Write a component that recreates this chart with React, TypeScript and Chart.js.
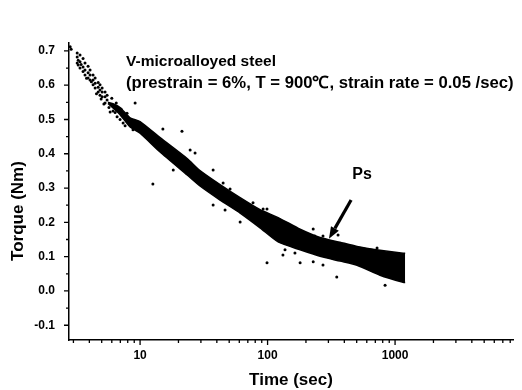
import React, { useEffect, useRef } from "react";
import { Chart, registerables } from "chart.js";

Chart.register(...registerables);

const bandTime = [5.6, 6.2, 6.97, 8.35, 10, 14.35, 23.4, 29.5, 42.4, 60.9, 87.3, 121, 180, 258, 370, 503, 762, 1156, 1200];
const bandUpper = [0.55, 0.545, 0.535, 0.505, 0.494, 0.447, 0.386, 0.351, 0.31, 0.272, 0.237, 0.214, 0.18, 0.156, 0.142, 0.13, 0.119, 0.11, 0.11];
const bandLower = [0.547, 0.532, 0.514, 0.478, 0.46, 0.405, 0.338, 0.306, 0.265, 0.227, 0.184, 0.143, 0.12, 0.101, 0.087, 0.075, 0.046, 0.025, 0.025];

// Individual (sparse / stray) points
const dotTime = [
  2.83, 2.88,
  3.21, 3.21, 3.21, 3.27, 3.27, 3.38, 3.38, 3.38, 3.57, 3.57, 3.57,
  3.7, 3.7, 3.7, 3.91, 3.91, 3.91, 4.05, 4.05, 4.05, 4.28, 4.28, 4.28,
  4.44, 4.44, 4.44, 4.69, 4.69, 4.69, 4.85, 4.85, 4.85, 5.04, 5.04, 5.04,
  5.31, 5.31, 5.31, 5.51, 5.51, 5.82, 6.14, 6.37, 6.6, 6.97, 7.36, 7.63,
  3.45, 3.8, 4.15, 4.55, 4.95, 5.2, 5.7, 6.0, 6.5, 7.1, 7.9, 8.8,
  9.14, 15.1, 21.3, 24.7, 18.2, 27, 12.6,
  37.4, 44.8, 50.8, 76.9, 92.3, 37.4, 46.4, 60.9, 99, 73,
  130, 228, 272, 357, 443, 137, 164, 228, 272,
  722, 946, 835, 349, 180, 99, 132, 215, 235,
];
const dotTorque = [
  0.712, 0.705,
  0.694, 0.682, 0.665, 0.673, 0.659, 0.688, 0.668, 0.65, 0.678, 0.653, 0.64,
  0.665, 0.644, 0.63, 0.655, 0.636, 0.621, 0.644, 0.63, 0.615, 0.63, 0.615, 0.601,
  0.621, 0.606, 0.592, 0.608, 0.594, 0.58, 0.601, 0.586, 0.571, 0.592, 0.58, 0.566,
  0.58, 0.566, 0.548, 0.571, 0.557, 0.522, 0.525, 0.52, 0.508, 0.5, 0.49, 0.482,
  0.66, 0.62, 0.61, 0.575, 0.56, 0.545, 0.535, 0.562, 0.548, 0.53, 0.518, 0.47,
  0.548, 0.472, 0.466, 0.411, 0.353, 0.402, 0.312,
  0.353, 0.315, 0.297, 0.257, 0.239, 0.251, 0.236, 0.201, 0.239, 0.222,
  0.198, 0.181, 0.16, 0.163, 0.128, 0.12, 0.111, 0.085, 0.076,
  0.125, 0.102, 0.017, 0.041, 0.082, 0.082, 0.105, 0.16, 0.16,
];

const xTickValues = [10, 100, 1000];
const xMinorTicks = [3, 4, 5, 6, 7, 8, 9, 20, 30, 40, 50, 60, 70, 80, 90, 200, 300, 400, 500, 600, 700, 800, 900, 2000, 3000, 4000, 5000, 6000, 7000, 8000];
const yTickValues = [-0.1, 0, 0.1, 0.2, 0.3, 0.4, 0.5, 0.6, 0.7];
const yMinorTicks = [-0.05, 0.05, 0.15, 0.25, 0.35, 0.45, 0.55, 0.65];

const noteLines = ["V-microalloyed steel", "(prestrain = 6%, T = 900\u2103, strain rate = 0.05 /sec)"];
const noteAnchor = { t: 7.76, v1: 0.668, v2: 0.606 };
const psLabel = "Ps";
const psAnchor = { t: 551, v: 0.338 };
const arrowFrom = { t: 452, v: 0.265 };
const arrowTo = { t: 303, v: 0.152 };

const FONT = '"Liberation Sans", Arial, sans-serif';

const decor = {
  id: "decor",
  afterDatasetsDraw(chart: any) {
    const { ctx, chartArea: a, scales } = chart;
    const x = scales.x;
    const y = scales.y;
    ctx.save();
    ctx.strokeStyle = "#000";
    ctx.lineWidth = 1.3;
    ctx.beginPath();
    yTickValues.forEach((v) => {
      const p = y.getPixelForValue(v);
      ctx.moveTo(a.left - 5, p);
      ctx.lineTo(a.left, p);
    });
    yMinorTicks.forEach((v) => {
      const p = y.getPixelForValue(v);
      ctx.moveTo(a.left - 3, p);
      ctx.lineTo(a.left, p);
    });
    xTickValues.forEach((v) => {
      const p = x.getPixelForValue(v);
      ctx.moveTo(p, a.bottom);
      ctx.lineTo(p, a.bottom + 5);
    });
    xMinorTicks.forEach((v) => {
      const p = x.getPixelForValue(v);
      ctx.moveTo(p, a.bottom);
      ctx.lineTo(p, a.bottom + 3);
    });
    ctx.stroke();

    ctx.fillStyle = "#000";
    ctx.textBaseline = "middle";
    ctx.textAlign = "left";
    ctx.font = `bold 15.5px ${FONT}`;
    ctx.fillText(noteLines[0], x.getPixelForValue(noteAnchor.t), y.getPixelForValue(noteAnchor.v1));
    ctx.font = `bold 16.7px ${FONT}`;
    ctx.fillText(noteLines[1], x.getPixelForValue(noteAnchor.t), y.getPixelForValue(noteAnchor.v2));

    ctx.textAlign = "center";
    ctx.font = `bold 16px ${FONT}`;
    ctx.fillText(psLabel, x.getPixelForValue(psAnchor.t), y.getPixelForValue(psAnchor.v));

    // arrow
    const x0 = x.getPixelForValue(arrowFrom.t);
    const y0 = y.getPixelForValue(arrowFrom.v);
    const x1 = x.getPixelForValue(arrowTo.t);
    const y1 = y.getPixelForValue(arrowTo.v);
    const ang = Math.atan2(y1 - y0, x1 - x0);
    const headLen = 12;
    const headW = 4.5;
    const bx = x1 - headLen * Math.cos(ang);
    const by = y1 - headLen * Math.sin(ang);
    ctx.lineWidth = 3.2;
    ctx.beginPath();
    ctx.moveTo(x0, y0);
    ctx.lineTo(bx, by);
    ctx.stroke();
    ctx.beginPath();
    ctx.moveTo(x1, y1);
    ctx.lineTo(bx + headW * Math.sin(ang), by - headW * Math.cos(ang));
    ctx.lineTo(bx - headW * Math.sin(ang), by + headW * Math.cos(ang));
    ctx.closePath();
    ctx.fill();

    // y-axis title
    ctx.save();
    ctx.font = `bold 17px ${FONT}`;
    ctx.translate(a.left - 51, a.top + 168);
    ctx.rotate(-Math.PI / 2);
    ctx.textAlign = "center";
    ctx.textBaseline = "middle";
    ctx.fillText("Torque (Nm)", 0, 0);
    ctx.restore();

    ctx.restore();
  },
};

export default function App() {
  const ref = useRef<HTMLCanvasElement | null>(null);

  useEffect(() => {
    if (!ref.current) return;
    const upper = bandTime.map((t, i) => ({ x: t, y: bandUpper[i] }));
    const lower = bandTime.map((t, i) => ({ x: t, y: bandLower[i] }));
    const dots = dotTime.map((t, i) => ({ x: t, y: dotTorque[i] }));

    const chart = new Chart(ref.current, {
      type: "scatter",
      data: {
        datasets: [
          {
            type: "line",
            data: upper,
            borderColor: "#000",
            backgroundColor: "#000",
            borderWidth: 1.5,
            pointRadius: 0,
            fill: "+1",
            tension: 0.2,
          },
          {
            type: "line",
            data: lower,
            borderColor: "#000",
            backgroundColor: "#000",
            borderWidth: 1.5,
            pointRadius: 0,
            fill: false,
            tension: 0.2,
          },
          {
            data: dots,
            backgroundColor: "#000",
            borderColor: "#000",
            borderWidth: 0,
            pointRadius: 1.5,
          },
        ],
      } as any,
      options: {
        animation: false,
        responsive: false,
        devicePixelRatio: 1,
        layout: { padding: { left: 0, top: 43, right: 9, bottom: 0 } },
        plugins: {
          legend: { display: false },
          tooltip: { enabled: false },
        },
        scales: {
          x: {
            type: "logarithmic",
            min: 2.77,
            max: 8414,
            grid: { display: false, drawTicks: false },
            border: { display: true, color: "#000", width: 1.5 },
            afterBuildTicks: (s: any) => {
              s.ticks = xTickValues.map((v) => ({ value: v }));
            },
            afterFit: (s: any) => {
              s.height = 50;
            },
            ticks: {
              color: "#000",
              padding: 8,
              maxRotation: 0,
              autoSkip: false,
              font: { family: FONT, size: 12, weight: "bold" },
              callback: (v: any) => String(v),
            },
            title: {
              display: true,
              text: "Time (sec)",
              color: "#000",
              font: { family: FONT, size: 17, weight: "bold", lineHeight: 1.1 },
              padding: { top: 0, bottom: 0 },
            },
          },
          y: {
            type: "linear",
            min: -0.143,
            max: 0.723,
            grid: { display: false, drawTicks: false },
            border: { display: true, color: "#000", width: 1.5 },
            afterBuildTicks: (s: any) => {
              s.ticks = yTickValues.map((v) => ({ value: v }));
            },
            afterFit: (s: any) => {
              s.width = 69;
            },
            ticks: {
              color: "#000",
              padding: 14,
              autoSkip: false,
              font: { family: FONT, size: 12, weight: "bold" },
              callback: (v: any) => Number(v).toFixed(1),
            },
          },
        },
      } as any,
      plugins: [decor],
    });
    return () => chart.destroy();
  }, []);

  return (
    <div style={{ position: "absolute", left: 0, top: 0, width: 522, height: 390, background: "#fff" }}>
      <canvas ref={ref} width={522} height={390} style={{ width: 522, height: 390, display: "block" }} />
    </div>
  );
}
